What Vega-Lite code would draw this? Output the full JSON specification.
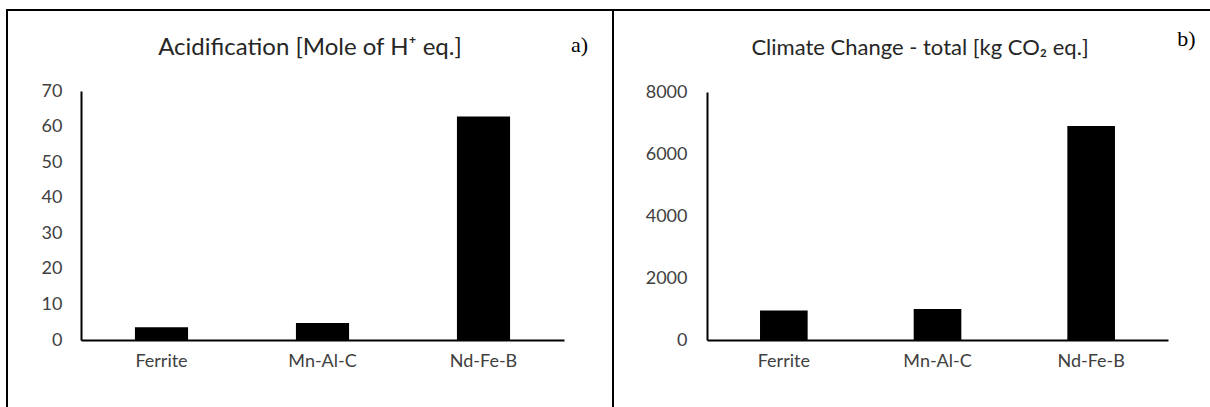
{
  "$schema": "https://vega.github.io/schema/vega-lite/v6.json",
  "padding": {"left": 6, "top": 9, "right": 0, "bottom": 0},
  "background": "white",
  "spacing": 0,
  "bounds": "flush",
  "config": {
    "view": {"stroke": "black", "strokeWidth": 2},
    "font": "Lato",
    "axis": {"labelFont": "Lato", "labelFontSize": 18, "labelColor": "#404040", "ticks": false, "grid": false, "domainColor": "black", "domainWidth": 2},
    "title": {"font": "Lato", "fontSize": 23, "fontWeight": "normal", "color": "#262626"}
  },
  "hconcat": [
    {
      "width": 606,
      "height": 420,
      "data": {"values": [
        {"magnet": "Ferrite", "value": 3.6},
        {"magnet": "Mn-Al-C", "value": 4.8},
        {"magnet": "Nd-Fe-B", "value": 62.8}
      ]},
      "title": {"text": "Acidification [Mole of H⁺ eq.]", "anchor": "middle", "frame": "group", "offset": -50, "fontSize": 24},
      "mark": {"type": "bar", "color": "black"},
      "encoding": {
        "x": {"field": "magnet", "type": "nominal", "sort": null,
          "scale": {"range": [74, 557], "paddingInner": 0.67, "paddingOuter": 0.335},
          "axis": {"title": null, "orient": "bottom", "offset": -90, "labelAngle": 0, "labelPadding": 12}},
        "y": {"field": "value", "type": "quantitative",
          "scale": {"domain": [0, 70], "range": [330, 81], "nice": false},
          "axis": {"orient": "left", "offset": -74, "values": [0, 10, 20, 30, 40, 50, 60, 70], "format": "d", "labelPadding": 19,
            "title": "a)", "titleAngle": 0, "titleX": 498, "titleY": 34, "titleFont": "Liberation Serif", "titleFontSize": 22, "titleFontWeight": "normal", "titleColor": "black", "titleAlign": "center", "titleBaseline": "middle"}}
      }
    },
    {
      "width": 600,
      "height": 420,
      "data": {"values": [
        {"magnet": "Ferrite", "value": 950},
        {"magnet": "Mn-Al-C", "value": 1000},
        {"magnet": "Nd-Fe-B", "value": 6900}
      ]},
      "title": {"text": "Climate Change - total [kg CO₂ eq.]", "anchor": "middle", "frame": "group", "offset": -50, "dx": 7, "fontSize": 22},
      "mark": {"type": "bar", "color": "black"},
      "encoding": {
        "x": {"field": "magnet", "type": "nominal", "sort": null,
          "scale": {"range": [94, 555], "paddingInner": 0.69, "paddingOuter": 0.345},
          "axis": {"title": null, "orient": "bottom", "offset": -90, "labelAngle": 0, "labelPadding": 12}},
        "y": {"field": "value", "type": "quantitative",
          "scale": {"domain": [0, 8000], "range": [330, 82], "nice": false},
          "axis": {"orient": "left", "offset": -94, "values": [0, 2000, 4000, 6000, 8000], "format": "d", "labelPadding": 20,
            "title": "b)", "titleAngle": 0, "titleX": 479, "titleY": 28, "titleFont": "Liberation Serif", "titleFontSize": 22, "titleFontWeight": "normal", "titleColor": "black", "titleAlign": "center", "titleBaseline": "middle"}}
      }
    }
  ]
}
